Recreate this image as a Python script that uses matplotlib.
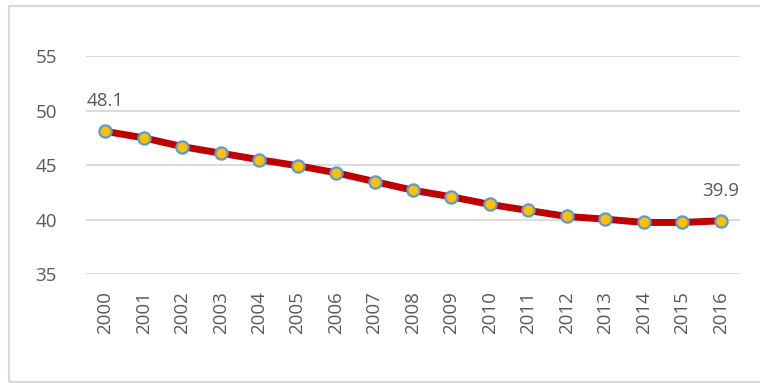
import matplotlib
matplotlib.use("Agg")
import matplotlib.pyplot as plt
from matplotlib.patches import Rectangle

years = [str(y) for y in range(2000, 2017)]
values = [48.1, 47.5, 46.7, 46.1, 45.5, 44.95, 44.3, 43.5, 42.7, 42.1,
          41.4, 40.85, 40.3, 40.05, 39.75, 39.75, 39.9]
y_ticks = [35, 40, 45, 50, 55]

plt.rcParams['font.family'] = ['Open Sans', 'DejaVu Sans']
text_color = '#595959'

fig = plt.figure(figsize=(7.6, 3.83), dpi=100)
fig.patch.set_facecolor('white')

# chart frame (runs off the right edge of the canvas)
fig.patches.append(Rectangle((8.5 / 760, 1.5 / 383), 780 / 760, 376 / 383,
                             transform=fig.transFigure, fill=False,
                             edgecolor='#D9D9D9', linewidth=1.5))

ax = fig.add_axes([86 / 760, 1 - 274.3 / 383, 654 / 760, (274.3 - 56) / 383])
x = list(range(len(years)))
ax.plot(x, values, color='#C00000', linewidth=5, marker='o',
        markersize=8.8, markerfacecolor='#FFC000', markeredgecolor='#5B9BD5',
        markeredgewidth=1.6, zorder=3, solid_capstyle='round')

ax.set_xlim(-0.5, len(years) - 0.5)
ax.set_ylim(35, 55)
ax.set_yticks(y_ticks)
ax.set_xticks(x)
ax.set_xticklabels(years, rotation=90)
ax.tick_params(axis='both', length=0, colors=text_color, labelsize=13.5)
ax.tick_params(axis='y', pad=21)
ax.tick_params(axis='x', pad=12)
ax.grid(axis='y', color='#D9D9D9', linewidth=1.3)
ax.set_axisbelow(True)
for s in ax.spines.values():
    s.set_visible(False)

for i in (0, len(values) - 1):
    ax.annotate(f"{values[i]:.1f}", (x[i], values[i]), xytext=(0, 15),
                textcoords='offset points', ha='center', va='bottom',
                fontsize=13.5, color=text_color)

fig.savefig('out.png', dpi=100, facecolor='white')
